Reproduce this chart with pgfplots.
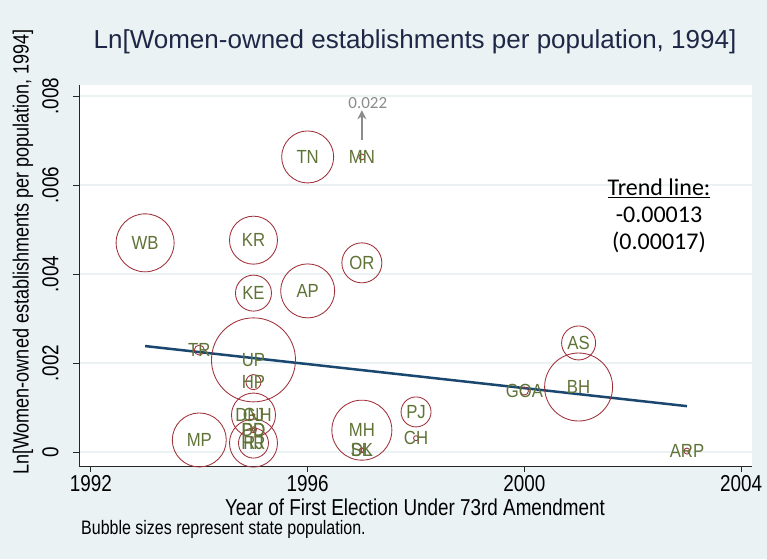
\documentclass[border=0pt]{standalone}
\usepackage{fontspec}
\usepackage{pgfplots}
\usepackage{pgfplotstable}
\usetikzlibrary{arrows.meta}
\pgfplotsset{compat=1.18}
\setmainfont{Liberation Sans}
\newfontfamily\narrowfont[FakeStretch=0.82]{Liberation Sans}
\newfontfamily\labfont[FakeStretch=0.88]{Liberation Sans}
\newfontfamily\calfont{Carlito}
\definecolor{stbg}{RGB}{234,242,243}
\definecolor{bub}{RGB}{160,48,58}
\definecolor{labc}{RGB}{95,115,55}
\definecolor{stnavy}{RGB}{26,71,111}
\definecolor{ttl}{RGB}{30,40,70}

\pgfplotstableread{
x y r lab
1996 0.00663 26 TN
1997 0.00663 3 MN
1993 0.00470 29 WB
1995 0.00476 24 KR
1995 0.00357 18 KE
1996 0.00362 27 AP
1997 0.00425 20 OR
1994 0.00229 5 TR
1995 0.00207 42 UP
1995 0.00157 7.5 HP
1995 0.00083 22 GJ
1995 0.00083 1.5 DNH
1995 0.00050 1.5 DD
1995 0.00050 3 PD
1995 0.00020 24 RJ
1995 0.00020 15 HR
1994 0.00027 27 MP
1997 0.00049 30 MH
1997 0.00004 2.5 SK
1997 0.00004 2 DL
1998 0.00090 15 PJ
1998 0.00031 2.5 CH
2000 0.00137 4 GOA
2001 0.00146 34 BH
2001 0.00245 17 AS
2003 0.00002 3 ARP
}\bubbles

\begin{document}
\begin{tikzpicture}[x=1pt,y=1pt]
\fill[stbg] (0,0) rectangle (767,559);
\useasboundingbox (0,0) rectangle (767,559);
\begin{axis}[
  at={(79pt,93pt)}, anchor=south west,
  width=673pt, height=381pt, scale only axis,
  xmin=1991.78, xmax=2004.2, ymin=-0.000315, ymax=0.008247,
  axis x line*=bottom, axis y line*=left,
  axis line style={black!85, line width=0.9pt},
  axis background/.style={fill=white},
  tick align=outside, major tick length=6pt,
  tick style={black!85, line width=0.9pt},
  xtick={1992,1996,2000,2004}, xticklabels={1992,1996,2000,2004},
  ytick={0,0.002,0.004,0.006,0.008}, yticklabels={0,.002,.004,.006,.008},
  scaled y ticks=false,
  ymajorgrids, grid style={stbg, line width=1.5pt},
  ticklabel style={font=\narrowfont\fontsize{23}{23}\selectfont},
  yticklabel style={rotate=90, anchor=south},
  yticklabel shift=11pt,
  clip=false,
]
\addplot[scatter, only marks, mark=o,
  scatter/use mapped color={draw=bub},
  mark options={line width=0.85pt},
  visualization depends on={\thisrow{r} \as \rad},
  scatter/@pre marker code/.append style={/tikz/mark size=\rad pt}]
  table[x=x,y=y] {\bubbles};
\addplot[draw=none, mark=none, nodes near coords, point meta=explicit symbolic,
  every node near coord/.append style={anchor=center, text=labc, font=\labfont\fontsize{19}{19}\selectfont, inner sep=0pt}]
  table[x=x, y=y, meta=lab] {\bubbles};
\addplot[stnavy, line width=2.5pt] coordinates {(1993,0.00238) (2003,0.00103)};
\draw[black!45, line width=2pt, -{Stealth[length=9pt,width=9pt]}] (axis cs:1997,0.00701) -- (axis cs:1997,0.00768);
\node[text=black!45, font=\calfont\fontsize{17}{17}\selectfont] at (axis cs:1997.11,0.00785) {0.022};
\end{axis}
\node[text=ttl, font=\fontsize{26}{26}\selectfont] at (415,517) {Ln[Women-owned establishments per population, 1994]};
\node[font=\narrowfont\fontsize{23}{23}\selectfont] at (415,52) {Year of First Election Under 73rd Amendment};
\node[rotate=90, font=\narrowfont\fontsize{22}{22}\selectfont] at (23,307) {Ln[Women-owned establishments per population, 1994]};
\node[anchor=west, font=\narrowfont\fontsize{19.5}{19.5}\selectfont, inner sep=0pt] at (81,30) {Bubble sizes represent state population.};
\node[font=\calfont\fontsize{24}{24}\selectfont] at (659,371) {\underline{Trend line:}};
\node[font=\calfont\fontsize{24}{24}\selectfont] at (659,344) {-0.00013};
\node[font=\calfont\fontsize{24}{24}\selectfont] at (659,317) {(0.00017)};
\end{tikzpicture}
\end{document}
